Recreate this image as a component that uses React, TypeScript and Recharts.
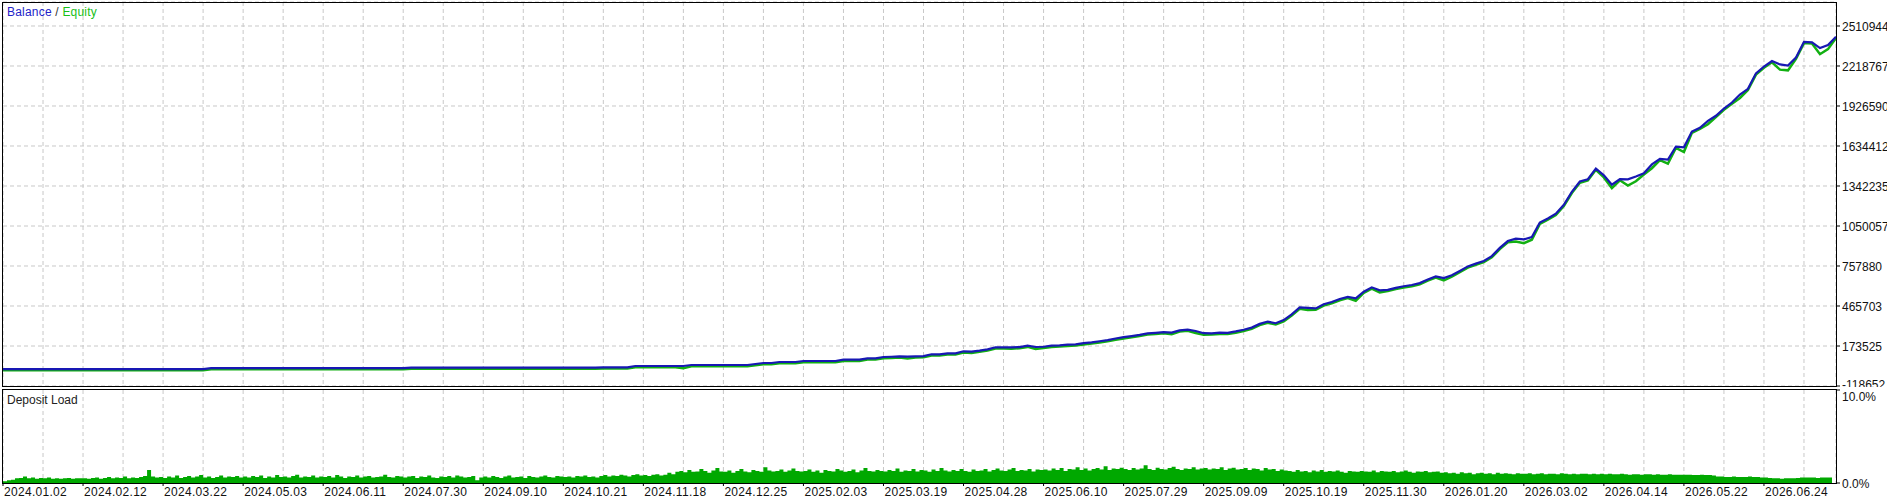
import React from 'react';
import { LineChart, Line, AreaChart, Area, XAxis, YAxis, CartesianGrid } from 'recharts';

const FONT = '"Liberation Sans", Arial, sans-serif';

// x-axis date labels (one every 80px of chart)
const dateLabels = [
  '2024.01.02', '2024.02.12', '2024.03.22', '2024.05.03', '2024.06.11', '2024.07.30',
  '2024.09.10', '2024.10.21', '2024.11.18', '2024.12.25', '2025.02.03', '2025.03.19',
  '2025.04.28', '2025.06.10', '2025.07.29', '2025.09.09', '2025.10.19', '2025.11.30',
  '2026.01.20', '2026.03.02', '2026.04.14', '2026.05.22', '2026.06.24',
];

const balanceTicks = [-118652, 173525, 465703, 757880, 1050057, 1342235, 1634412, 1926590, 2218767, 2510944];
const balanceMax = 2686250;
const loadTicks = [0, 10];

// balance, 10 samples per date interval
const balance = [
  5000, 5000, 5000, 5000, 5000, 5000, 5000, 5000, 5000, 5000,
  5000, 5000, 5000, 5000, 5000, 5000, 5000, 5000, 5000, 5000,
  5000, 5000, 5000, 5000, 5000, 5000, 12000, 12000, 12000, 12000,
  12000, 12000, 12000, 12000, 12000, 12000, 12000, 12000, 12000, 12000,
  12000, 12000, 12000, 12000, 12000, 12000, 12000, 12000, 12000, 12000,
  12000, 16000, 16000, 16000, 16000, 16000, 16000, 16000, 16000, 16000,
  16000, 16000, 16000, 16000, 16000, 16000, 16000, 16000, 16000, 16000,
  16000, 16000, 16000, 16000, 16000, 18000, 18000, 18000, 18000, 27400,
  27400, 27400, 27400, 27400, 27400, 27400, 34700, 34700, 34700, 34700,
  34700, 34700, 34700, 34700, 42000, 49300, 49300, 56700, 56700, 56700,
  64000, 64000, 64000, 64000, 64000, 73500, 73500, 73500, 83500, 83500,
  93000, 95000, 98300, 96000, 98300, 100000, 113000, 113000, 120200, 120200,
  134800, 132000, 140000, 149400, 164000, 164000, 163000, 166000, 176000, 166200,
  168000, 176000, 178600, 183000, 186000, 194000, 200000, 208000, 217000, 228000,
  238000, 246000, 255000, 266000, 270000, 275000, 272000, 288000, 293000, 283000,
  267000, 266000, 271000, 270000, 280000, 292000, 308000, 335000, 352000, 340000,
  363000, 405000, 455000, 452000, 448000, 478000, 495000, 517000, 532000, 522000,
  570000, 602000, 580000, 584000, 598000, 610000, 619000, 633000, 660000, 682000,
  670000, 690000, 722000, 755000, 775000, 795000, 830000, 890000, 940000, 958000,
  952000, 970000, 1075000, 1105000, 1140000, 1205000, 1300000, 1375000, 1392000, 1470000,
  1420000, 1352000, 1393000, 1391000, 1412000, 1435000, 1500000, 1540000, 1535000, 1630000,
  1625000, 1740000, 1768000, 1818000, 1855000, 1908000, 1952000, 2010000, 2052000, 2165000,
  2215000, 2255000, 2230000, 2222000, 2280000, 2395000, 2392000, 2350000, 2372000, 2433000,
];

// floating loss (balance - equity) at the same samples
const floating = [
  9000, 9000, 9000, 9000, 9000, 9000, 9000, 9000, 9000, 9000,
  9000, 9000, 9000, 9000, 9000, 9000, 9000, 9000, 9000, 9000,
  9000, 9000, 9000, 9000, 9000, 9000, 9000, 9000, 9000, 9000,
  9000, 9000, 9000, 9000, 9000, 9000, 9000, 9000, 9000, 9000,
  9000, 9000, 9000, 9000, 9000, 9000, 9000, 9000, 9000, 9000,
  9000, 9000, 9000, 9000, 9000, 9000, 9000, 9000, 9000, 9000,
  9000, 9000, 9000, 9000, 9000, 9000, 9000, 9000, 9000, 9000,
  9000, 9000, 9000, 9000, 9000, 9000, 9000, 9000, 9000, 9000,
  9000, 9000, 9000, 9000, 9000, 16000, 9000, 9000, 9000, 9000,
  9000, 9000, 9000, 9000, 9000, 9000, 9000, 9000, 9000, 9000,
  9000, 9000, 9000, 9000, 9000, 9000, 9000, 9000, 9000, 9000,
  9000, 9000, 9000, 14000, 9000, 9000, 9000, 9000, 9000, 9000,
  9000, 9000, 9000, 9000, 9000, 9000, 9000, 9000, 9000, 14000,
  9000, 9000, 9000, 9000, 9000, 9000, 9000, 9000, 9000, 9000,
  9000, 9000, 9000, 9000, 9000, 9000, 12000, 9000, 9000, 14000,
  12000, 9000, 9000, 9000, 9000, 9000, 9000, 9000, 9000, 9000,
  9000, 9000, 9000, 15000, 9000, 9000, 9000, 9000, 9000, 18000,
  9000, 9000, 16000, 9000, 9000, 9000, 9000, 9000, 9000, 9000,
  18000, 9000, 9000, 9000, 9000, 9000, 9000, 9000, 9000, 22000,
  28000, 20000, 9000, 9000, 9000, 9000, 9000, 9000, 9000, 9000,
  15000, 25000, 9000, 45000, 35000, 9000, 28000, 9000, 30000, 9000,
  35000, 9000, 9000, 25000, 9000, 9000, 9000, 25000, 9000, 9000,
  9000, 9000, 38000, 35000, 9000, 9000, 9000, 45000, 30000, 9000,
];

// deposit load %, 20 samples per date interval
const depositLoad = [
  0.2, 0.3, 0.35, 0.5, 0.55, 0.7, 0.5, 0.6, 0.45, 0.55, 0.5, 0.6, 0.45, 0.5, 0.45, 0.5, 0.55, 0.45, 0.5, 0.5,
  0.5, 0.45, 0.55, 0.6, 0.45, 0.55, 0.65, 0.5, 0.6, 0.55, 0.7, 0.5, 0.6, 0.55, 0.65, 0.75, 1.4, 0.7, 0.6, 0.65,
  0.55, 0.7, 0.6, 0.8, 0.55, 0.65, 0.75, 0.6, 0.7, 0.85, 0.6, 0.7, 0.55, 0.65, 0.8, 0.6, 0.7, 0.65, 0.75, 0.6,
  0.7, 0.6, 0.75, 0.65, 0.8, 0.55, 0.7, 0.6, 0.85, 0.65, 0.7, 0.6, 0.75, 0.9, 0.6, 0.7, 0.65, 0.8, 0.6, 0.7,
  0.65, 0.75, 0.6, 0.85, 0.7, 0.55, 0.7, 0.65, 0.8, 0.6, 0.7, 0.75, 0.6, 0.65, 0.7, 0.9, 0.65, 0.6, 0.75, 0.7,
  0.6, 0.7, 0.75, 0.55, 0.7, 0.65, 0.8, 0.6, 0.55, 0.7, 0.65, 0.75, 0.6, 0.8, 0.7, 0.6, 0.65, 0.75, 0.3, 0.6,
  0.7, 0.6, 0.75, 0.65, 0.55, 0.7, 0.8, 0.6, 0.65, 0.7, 0.55, 0.75, 0.65, 0.6, 0.7, 0.8, 0.65, 0.6, 0.75, 0.7,
  0.65, 0.7, 0.6, 0.75, 0.7, 0.8, 0.65, 0.7, 0.6, 0.75, 0.85, 0.7, 0.8, 0.75, 0.9, 0.8, 0.7, 0.85, 0.95, 0.8,
  0.85, 0.75, 0.9, 0.95, 0.8, 0.9, 1.1, 0.95, 1.2, 1.3, 1.15, 1.4, 1.2, 1.25, 1.5, 1.3, 1.1, 1.35, 1.6, 1.25,
  1.2, 1.35, 1.1, 1.3, 1.5, 1.25, 1.15, 1.4, 1.3, 1.2, 1.7, 1.35, 1.25, 1.3, 1.45, 1.2, 1.35, 1.55, 1.3, 1.25,
  1.3, 1.45, 1.2, 1.35, 1.1, 1.4, 1.3, 1.25, 1.5, 1.35, 1.2, 1.3, 1.45, 1.15, 1.35, 1.6, 1.3, 1.25, 1.4, 1.3,
  1.25, 1.4, 1.3, 1.55, 1.2, 1.35, 1.3, 1.5, 1.25, 1.4, 1.35, 1.2, 1.45, 1.3, 1.6, 1.35, 1.25, 1.4, 1.3, 1.5,
  1.3, 1.2, 1.45, 1.3, 1.35, 1.5, 1.25, 1.4, 1.55, 1.35, 1.3, 1.45, 1.6, 1.3, 1.4, 1.35, 1.5, 1.25, 1.45, 1.4,
  1.45, 1.35, 1.55, 1.4, 1.6, 1.3, 1.5, 1.45, 1.7, 1.4, 1.55, 1.35, 1.5, 1.6, 1.45, 1.8, 1.4, 1.55, 1.5, 1.65,
  1.5, 1.4, 1.6, 1.45, 1.55, 1.9, 1.5, 1.4, 1.65, 1.5, 1.45, 1.6, 1.75, 1.5, 1.4, 1.55, 1.5, 1.7, 1.45, 1.55,
  1.6, 1.45, 1.55, 1.5, 1.7, 1.4, 1.55, 1.65, 1.45, 1.5, 1.6, 1.4, 1.55, 1.5, 1.35, 1.6, 1.45, 1.5, 1.3, 1.45,
  1.35, 1.3, 1.2, 1.4, 1.25, 1.3, 1.15, 1.35, 1.25, 1.4, 1.2, 1.3, 1.25, 1.35, 1.2, 1.1, 1.3, 1.25, 1.2, 1.3,
  1.25, 1.2, 1.35, 1.15, 1.3, 1.25, 1.2, 1.3, 1.15, 1.25, 1.35, 1.2, 1.1, 1.25, 1.2, 1.3, 1.15, 1.2, 1.25, 1.1,
  1.15, 1.05, 1.1, 1.0, 1.15, 1.05, 1.1, 0.95, 1.05, 1.1, 1.0, 1.05, 0.95, 1.1, 1.0, 1.05, 1.0, 0.95, 1.05, 1.0,
  1.0, 1.05, 0.95, 1.0, 1.05, 0.95, 1.0, 1.0, 0.95, 1.05, 1.0, 0.95, 1.0, 0.95, 1.0, 1.0, 0.95, 1.0, 0.95, 1.0,
  0.95, 1.0, 0.95, 0.95, 1.0, 0.95, 0.9, 0.95, 0.95, 0.9, 0.95, 0.95, 0.9, 0.95, 0.9, 0.9, 0.95, 0.9, 0.9, 0.9,
  0.9, 0.9, 0.85, 0.85, 0.9, 0.85, 0.85, 0.8, 0.7, 0.7, 0.65, 0.65, 0.7, 0.65, 0.65, 0.65, 0.7, 0.65, 0.65, 0.6,
  0.6, 0.55, 0.5, 0.5, 0.45, 0.5, 0.5, 0.5, 0.55, 0.6, 0.6, 0.6, 0.6, 0.55, 0.6, 0.6, 0.6, 0.55,
];

const mainRows = balance.map((b, i) => ({ i, balance: b, equity: b - floating[i] }));
const loadRows = depositLoad.map((v, i) => ({ i, load: v }));

const mainGridTicks = Array.from({ length: 45 }, (_, k) => (k + 1) * 5);
const loadGridTicks = Array.from({ length: 45 }, (_, k) => (k + 1) * 10);
const dateTickPos = dateLabels.map((_, k) => k * 20);

const BalanceTick = ({ x, y, payload }: any) => (
  <text x={x} y={payload.value === balanceTicks[0] ? y + 3 : y + 5} fill="#111" fontSize={12} fontFamily={FONT} textAnchor="start">
    {payload.value}
  </text>
);

const LoadTick = ({ x, y, payload }: any) => (
  <text x={x} y={payload.value === 10 ? y + 11 : y + 5} fill="#111" fontSize={12} fontFamily={FONT} textAnchor="start">
    {payload.value.toFixed(1) + '%'}
  </text>
);

const DateTick = ({ x, y, payload }: any) => (
  <text x={x + 1} y={y + 10} fill="#111" fontSize={12} fontFamily={FONT} letterSpacing={0.3} textAnchor="start">
    {dateLabels[payload.value / 20]}
  </text>
);

export default function App() {
  return (
    <div style={{ position: 'relative', width: 1887, height: 500, background: '#fff', overflow: 'hidden', fontFamily: FONT }}>
      <style>{'body{margin:0}'}</style>

      {/* balance / equity panel */}
      <div style={{ position: 'absolute', left: 0, top: 0, width: 1887, height: 387, overflow: 'hidden' }}>
        <LineChart width={1887} height={387} data={mainRows} margin={{ top: 2, right: 0, bottom: 1, left: 3 }}>
          <CartesianGrid stroke="#c8c8c8" strokeDasharray="4 3" />
          <XAxis type="number" dataKey="i" domain={[0, 229]} ticks={mainGridTicks} hide />
          <YAxis
            orientation="right"
            width={51}
            domain={[balanceTicks[0], balanceMax]}
            ticks={balanceTicks}
            allowDataOverflow
            axisLine={false}
            tickLine={{ stroke: '#000' }}
            tickSize={4}
            tickMargin={2}
            tick={<BalanceTick />}
            interval={0}
          />
          <Line type="linear" dataKey="equity" stroke="#12b012" strokeWidth={2.5} dot={false} isAnimationActive={false} />
          <Line type="linear" dataKey="balance" stroke="#1818b4" strokeWidth={2.2} dot={false} isAnimationActive={false} />
        </LineChart>
      </div>
      <div style={{ position: 'absolute', left: 2, top: 2, width: 1835, height: 385, border: '1px solid #000', boxSizing: 'border-box', pointerEvents: 'none' }} />
      <div style={{ position: 'absolute', left: 7, top: 6, fontSize: 12, lineHeight: '12px', whiteSpace: 'nowrap', letterSpacing: 0.2 }}>
        <span style={{ color: '#2222c8' }}>Balance</span>
        <span style={{ color: '#333' }}> / </span>
        <span style={{ color: '#18c018' }}>Equity</span>
      </div>

      {/* deposit load panel */}
      <div style={{ position: 'absolute', left: 0, top: 387, width: 1887, height: 113 }}>
        <AreaChart width={1887} height={113} data={loadRows} margin={{ top: 3, right: 0, bottom: 0, left: 3 }}>
          <CartesianGrid xAxisId="grid" horizontal={false} stroke="#c8c8c8" strokeDasharray="4 3" />
          <XAxis xAxisId="grid" type="number" dataKey="i" domain={[0, 458]} ticks={loadGridTicks} hide />
          <XAxis
            xAxisId="dates"
            type="number"
            dataKey="i"
            domain={[0, 458]}
            ticks={dateTickPos}
            interval={0}
            height={17}
            axisLine={false}
            tickLine={{ stroke: '#000' }}
            tickSize={3}
            tickMargin={0}
            tick={<DateTick />}
          />
          <YAxis
            orientation="right"
            width={51}
            domain={[0, 10]}
            ticks={loadTicks}
            allowDataOverflow
            axisLine={false}
            tickLine={{ stroke: '#000' }}
            tickSize={4}
            tickMargin={2}
            tick={<LoadTick />}
            interval={0}
          />
          <Area xAxisId="dates" type="stepAfter" dataKey="load" stroke="none" fill="#00a800" fillOpacity={1} isAnimationActive={false} />
        </AreaChart>
      </div>
      <div style={{ position: 'absolute', left: 2, top: 389, width: 1835, height: 95, border: '1px solid #000', boxSizing: 'border-box', pointerEvents: 'none' }} />
      <div style={{ position: 'absolute', left: 7, top: 394, fontSize: 12, lineHeight: '12px', color: '#222', whiteSpace: 'nowrap' }}>
        Deposit Load
      </div>
    </div>
  );
}
